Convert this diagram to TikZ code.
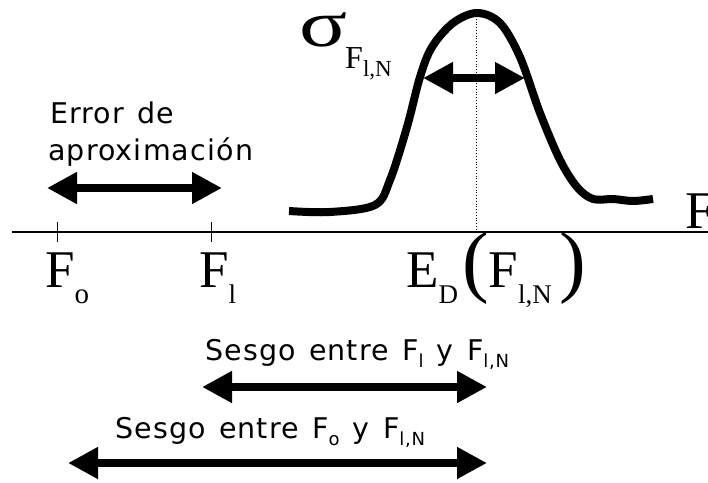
\documentclass[tikz,border=0pt]{standalone}
\usepackage{fontspec}
\setmainfont{Liberation Serif}
\newfontfamily\labfont[LetterSpace=4,WordSpace=1.3]{DejaVu Sans}
\usetikzlibrary{arrows.meta}
\newcommand{\fsz}[1]{\fontsize{#1}{#1}\selectfont}
\begin{document}
\begin{tikzpicture}[x=1pt,y=-1pt,
  dbl/.style={line width=8.5pt,{Triangle[length=30pt,width=30pt]}-{Triangle[length=30pt,width=30pt]}},
  lbl/.style={font=\labfont\fsz{28.5}, inner sep=0pt, anchor=base west},
  mth/.style={font=\fsz{53}, inner sep=0pt, anchor=base west},
  tick/.style={line width=1pt},
  axis/.style={line width=1.4pt}]
\useasboundingbox (0,0) rectangle (708,482);
% axis
\coordinate (ax0) at (12,232);
\coordinate (ax1) at (708,232);
\draw[axis] (ax0) -- (ax1);
\node[mth] (Fr) at (685,228) {F};
% ticks
\coordinate (t0a) at (57,222); \coordinate (t0b) at (57,242);
\coordinate (t1a) at (211,222); \coordinate (t1b) at (211,242);
\draw[tick] (t0a) -- (t0b);
\draw[tick] (t1a) -- (t1b);
% axis labels
\node[mth] (Fo) at (45,287) {F\raisebox{-16pt}{\fsz{29}o}};
\node[mth] (Fl) at (199,287) {F\raisebox{-16pt}{\fsz{27}l}};
\node[mth] (ED) at (406,287) {E\raisebox{-16pt}{\fsz{27}D}\hspace{4pt}{\fsz{80}(}F\raisebox{-16pt}{\fsz{27}l,N}\hspace{8pt}{\fsz{80})}};
% dotted centre line
\coordinate (pk) at (476,16);
\coordinate (pkb) at (476,232);
\draw[line width=0.8pt, dotted] (pk) -- (pkb);
% curve
\draw[line width=8pt, line join=round]
  plot[smooth, tension=0.55] coordinates {
   (289,211) (330,212) (375,205) (390,180) (407,127) (420,77) (432,47)
   (453,23) (477,13) (500,23) (520,57) (540,113) (560,160) (577,187)
   (593,199) (613,199) (633,201) (653,199)};
% sigma label
\node[inner sep=0pt, anchor=base west, font=\fsz{66}] (sig) at (299,46) {\scalebox{1.35}[1]{σ}};
\node[inner sep=0pt, anchor=base west, font=\fsz{32}] (sigF) at (345,68) {F\raisebox{-8pt}{\fsz{23}l,N}};
% peak width arrow
\coordinate (pa0) at (423,78); \coordinate (pa1) at (525,78);
\draw[dbl] (pa0) -- (pa1);
% error de aproximacion
\node[lbl] (e1) at (50,123) {Error de};
\node[lbl] (e2) at (48,160) {aproximación};
\coordinate (ea0) at (47,188); \coordinate (ea1) at (222,188);
\draw[dbl] (ea0) -- (ea1);
% sesgo 1
\node[lbl] (s1) at (205,360) {Sesgo entre F\raisebox{-7pt}{\fsz{18}l} y F\raisebox{-7pt}{\fsz{18}l,N}};
\coordinate (sa0) at (202,387); \coordinate (sa1) at (487,387);
\draw[dbl] (sa0) -- (sa1);
% sesgo 2
\node[lbl] (s2) at (115,438) {Sesgo entre F\raisebox{-7pt}{\fsz{18}o} y F\raisebox{-7pt}{\fsz{18}l,N}};
\coordinate (sb0) at (68,463); \coordinate (sb1) at (487,463);
\draw[dbl] (sb0) -- (sb1);
\end{tikzpicture}
\end{document}
